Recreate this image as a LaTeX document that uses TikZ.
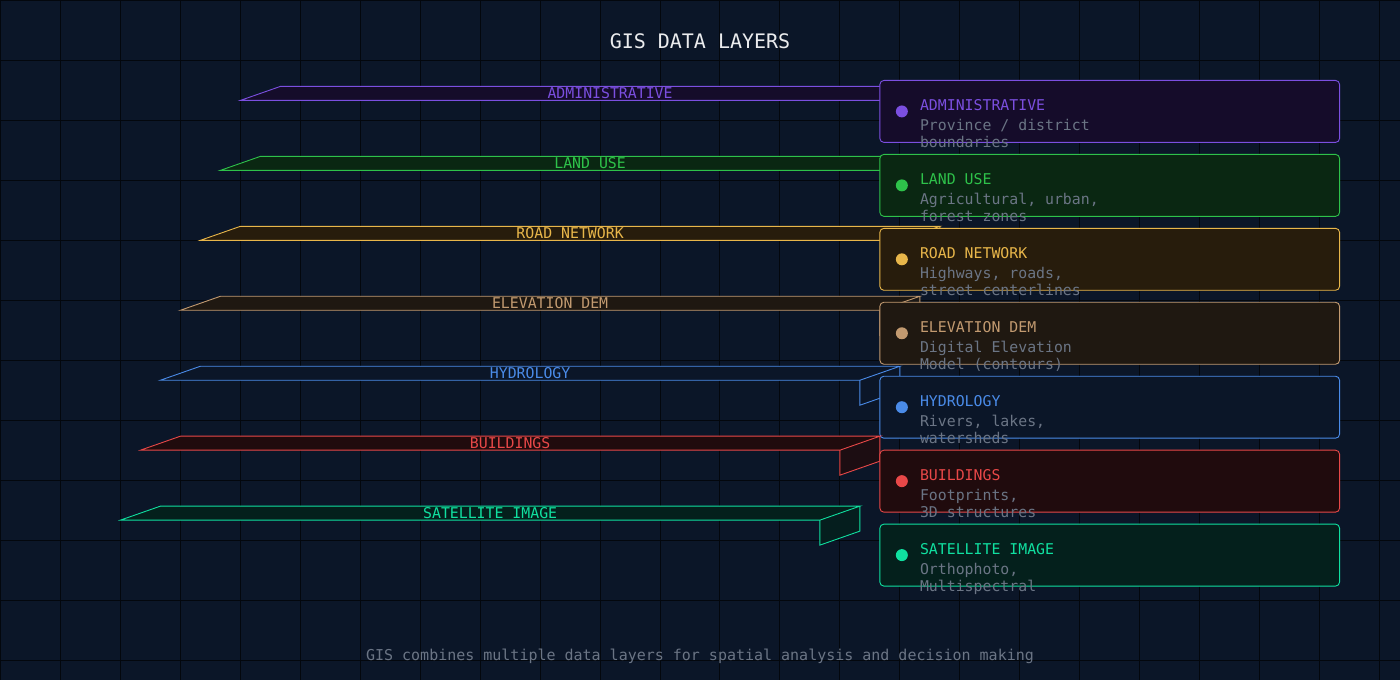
\documentclass[tikz,border=0pt]{standalone}
\usepackage{fontspec}
\setmonofont{DejaVu Sans Mono}
\usetikzlibrary{calc}
\begin{document}
\definecolor{bg}{HTML}{0B1628}
\definecolor{gridc}{HTML}{03070D}
\definecolor{desc}{HTML}{6B7585}
\definecolor{cA}{HTML}{7B4FE0}\definecolor{fA}{HTML}{150C2A}
\definecolor{cB}{HTML}{2EC24A}\definecolor{fB}{HTML}{0A2712}
\definecolor{cC}{HTML}{E8B64A}\definecolor{fC}{HTML}{271C0C}
\definecolor{cD}{HTML}{C29A70}\definecolor{fD}{HTML}{1F1811}
\definecolor{cE}{HTML}{4A8BE8}\definecolor{fE}{HTML}{0B1628}
\definecolor{cF}{HTML}{E84848}\definecolor{fF}{HTML}{200B0D}
\definecolor{cG}{HTML}{10E0A0}\definecolor{fG}{HTML}{04201C}
\begin{tikzpicture}[x=1pt,y=-1pt,font=\ttfamily,
  lab/.style={font=\fontsize{14.85}{16}\ttfamily,inner sep=0pt},
  dsc/.style={font=\fontsize{14.85}{17}\ttfamily,inner sep=0pt,text=desc,align=left,anchor=north west},
  card/.style={rounded corners=4pt,line width=0.9pt}]
\fill[bg] (0,0) rectangle (1400,680);
\foreach \x in {0,60,...,1400} \draw[gridc,line width=1pt] (\x,0) -- (\x,680);
\foreach \y in {0,60,...,680} \draw[gridc,line width=1pt] (0,\y) -- (1400,\y);
\node[font=\fontsize{20}{22}\ttfamily,text=white!92!bg] (title) at (700,41) {GIS DATA LAYERS};
\foreach \i/\c/\t/\da/\db in {0/A/ADMINISTRATIVE/{Province / district}/boundaries,
  1/B/LAND USE/{Agricultural, urban,}/forest zones,
  2/C/ROAD NETWORK/{Highways, roads,}/street centerlines,
  3/D/ELEVATION DEM/Digital Elevation/Model (contours),
  4/E/HYDROLOGY/{Rivers, lakes,}/watersheds,
  5/F/BUILDINGS/{Footprints,}/3D structures,
  6/G/SATELLITE IMAGE/{Orthophoto,}/Multispectral} {
  \pgfmathsetmacro{\bx}{240-20*\i}
  \pgfmathsetmacro{\by}{100+70*\i}
  \coordinate (s\i) at (\bx,\by);
  \fill[f\c!80!bg] ($(s\i)+(700,0)$) -- ++(40,-14) -- ++(0,25) -- ++(-40,14) -- cycle;
  \draw[c\c,line width=0.9pt,fill=f\c] (s\i) -- ++(40,-14) -- ++(700,0) -- ++(-40,14) -- cycle;
  \draw[c\c,line width=0.9pt] ($(s\i)+(700,0)$) -- ++(0,25) -- ++(40,-14) -- ++(0,-25);
  \node[lab,text=c\c] (sl\i) at (\bx+370,\by-7) {\t};
  \pgfmathsetmacro{\cy}{80+74*\i}
  \draw[card,draw=c\c,fill=f\c] (880,\cy) rectangle (1340,\cy+62);
  \fill[c\c] (902,\cy+31) circle (6);
  \node[lab,text=c\c,anchor=west] (ct\i) at (920,\cy+25) {\t};
  \node[dsc] (cd\i) at (920,\cy+39) {\da\\\db};
}
\node[font=\fontsize{15}{16}\ttfamily,text=desc] (foot) at (700,656) {GIS combines multiple data layers for spatial analysis and decision making};
\end{tikzpicture}
\end{document}
